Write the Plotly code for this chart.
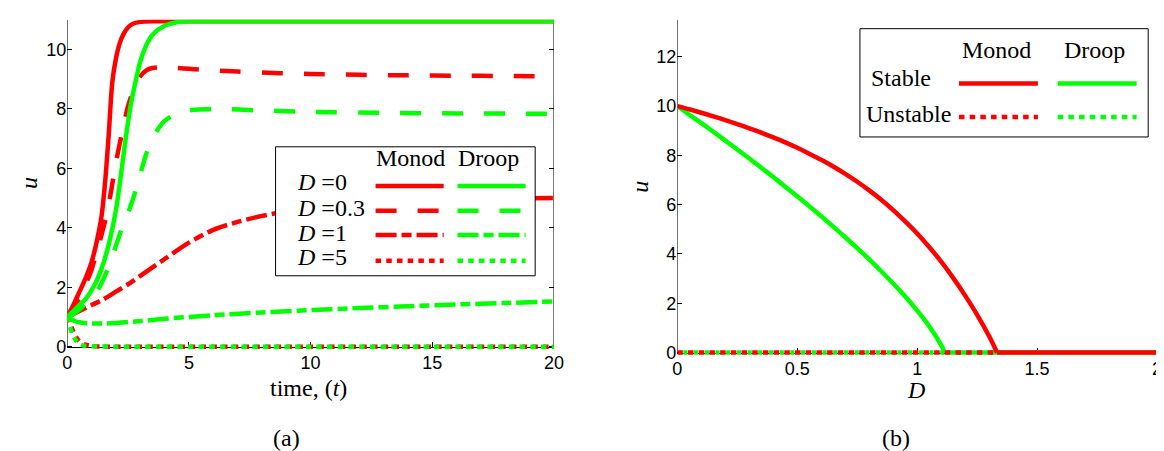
import plotly.graph_objects as go

W, H = 1164, 451

# ---------------- panel (a): u(t) ----------------
t_monod_d0 = [0, 0.25, 0.5, 0.75, 1.0, 1.2, 1.4, 1.55, 1.7, 1.85, 2.0, 2.15, 2.3, 2.5, 2.7, 3.0, 3.5, 4, 5, 10, 15, 20]
u_monod_d0 = [1.0, 1.4, 1.85, 2.3, 2.85, 3.5, 4.35, 5.5, 7.1, 8.9, 9.7, 10.2, 10.5, 10.75, 10.87, 10.93, 10.95, 10.95, 10.95, 10.95, 10.95, 10.95]

t_droop_d0 = [0, 0.25, 0.5, 0.75, 1.0, 1.25, 1.5, 1.75, 2.0, 2.2, 2.4, 2.6, 2.8, 3.0, 3.25, 3.5, 4.0, 4.5, 5.0, 6, 10, 15, 20]
u_droop_d0 = [1.0, 1.2, 1.4, 1.6, 1.9, 2.3, 2.85, 3.6, 4.6, 5.75, 7.0, 8.1, 8.9, 9.6, 10.15, 10.5, 10.8, 10.92, 10.95, 10.95, 10.95, 10.95, 10.95]

t_monod_d03 = [0, 0.25, 0.5, 0.75, 1.0, 1.25, 1.5, 1.75, 2.0, 2.25, 2.5, 2.75, 3.0, 3.25, 3.5, 4, 4.5, 5, 6, 7, 8.5, 10, 12, 14, 16, 18, 20]
u_monod_d03 = [1.0, 1.3, 1.65, 2.1, 2.6, 3.3, 4.05, 5.0, 6.2, 7.2, 8.1, 8.7, 9.1, 9.3, 9.38, 9.4, 9.38, 9.35, 9.3, 9.26, 9.21, 9.18, 9.15, 9.13, 9.12, 9.11, 9.1]

t_droop_d03 = [0, 0.25, 0.5, 0.75, 1.0, 1.25, 1.5, 1.75, 2.0, 2.25, 2.5, 2.75, 3.0, 3.25, 3.5, 3.75, 4.0, 4.5, 5, 6, 8, 10, 13, 16, 20]
u_droop_d03 = [1.0, 1.1, 1.25, 1.45, 1.65, 1.9, 2.3, 2.8, 3.4, 4.0, 4.5, 5.1, 5.8, 6.5, 7.0, 7.35, 7.6, 7.85, 7.95, 8.0, 7.95, 7.9, 7.87, 7.85, 7.84]

t_monod_d1 = [0, 0.5, 1, 1.5, 2, 2.5, 3, 4, 5, 6, 7, 8, 9, 10, 12, 14, 16, 18, 20]
u_monod_d1 = [1.0, 1.2, 1.4, 1.6, 1.85, 2.1, 2.38, 2.95, 3.5, 3.93, 4.2, 4.4, 4.55, 4.67, 4.82, 4.9, 4.95, 4.98, 5.0]

t_droop_d1 = [0, 0.25, 0.5, 1, 1.5, 2, 3, 4, 5, 6, 8, 10, 12, 14, 16, 18, 20]
u_droop_d1 = [1.0, 0.88, 0.82, 0.78, 0.78, 0.8, 0.86, 0.94, 1.0, 1.06, 1.15, 1.23, 1.3, 1.36, 1.42, 1.47, 1.52]

t_monod_d5 = [0, 0.1, 0.2, 0.3, 0.4, 0.5, 0.7, 1.0, 1.5, 2, 5, 10, 15, 20]
u_monod_d5 = [1.0, 0.8, 0.6, 0.42, 0.28, 0.18, 0.08, 0.02, 0, 0, 0, 0, 0, 0]

t_droop_d5 = [0, 0.1, 0.2, 0.3, 0.4, 0.5, 0.7, 1.0, 2, 5, 10, 15, 20]
u_droop_d5 = [1.0, 0.7, 0.45, 0.28, 0.16, 0.09, 0.03, 0.01, 0, 0, 0, 0, 0]

t_ticks = [0, 5, 10, 15, 20]
u_ticks_a = [0, 2, 4, 6, 8, 10]
D_labels = ["=0", "=0.3", "=1", "=5"]

# ---------------- panel (b): u vs D ----------------
D_monod_pos = [0, 0.05, 0.1, 0.15, 0.2, 0.25, 0.3, 0.35, 0.4, 0.45, 0.5, 0.55, 0.6, 0.65,
               0.7, 0.75, 0.8, 0.85, 0.9, 0.95, 1.0, 1.05, 1.1, 1.15, 1.2, 1.25, 1.3, 1.333]
u_monod_pos = [10, 9.87, 9.73, 9.585, 9.43, 9.27, 9.10, 8.92, 8.73, 8.53, 8.31, 8.07, 7.82, 7.55,
               7.25, 6.93, 6.58, 6.20, 5.78, 5.32, 4.83, 4.28, 3.69, 3.03, 2.31, 1.53, 0.66, 0]

D_droop_pos = [0, 0.05, 0.1, 0.15, 0.2, 0.25, 0.3, 0.35, 0.4, 0.45, 0.5, 0.55, 0.6, 0.65,
               0.7, 0.75, 0.8, 0.85, 0.9, 0.95, 1.0, 1.05, 1.1, 1.115]
u_droop_pos = [10, 9.65, 9.31, 8.96, 8.60, 8.24, 7.87, 7.50, 7.12, 6.73, 6.34, 5.94, 5.53, 5.11,
               4.68, 4.24, 3.78, 3.30, 2.80, 2.27, 1.70, 1.07, 0.30, 0]

D_monod_wash_unstable = [0, 1.333]
D_monod_wash_stable = [1.333, 2]
D_droop_wash_unstable = [0, 1.115]
D_droop_wash_stable = [1.115, 2]
u_wash = [0, 0]

D_ticks = [0, 0.5, 1, 1.5, 2]
D_ticktext = ["0", "0.5", "1", "1.5", "2"]
u_ticks_b = [0, 2, 4, 6, 8, 10, 12]

# ---------------- styling ----------------
RED = "#ff0000"
GREEN = "#00ff00"
LW = 4.5
DASHES = {
    "solid": "solid",
    "dash": "21px,21px",
    "dashdot": "21px,5px,10px,5px",
    "dot": "5.5px,5.2px",
    "dot_shift": "0px,6px,4.2px,0.5px",
}
SERIF = "Liberation Serif"
SANS = "Liberation Sans"
FS = 24


def px(x):
    return x / W


def py(y):
    return 1 - y / H


fig = go.Figure()


def add(x, y, color, dash, xa, ya, smooth=True):
    fig.add_trace(go.Scatter(
        x=x, y=y, mode="lines",
        line=dict(color=color, width=LW, dash=DASHES[dash],
                  shape="spline" if smooth else "linear", smoothing=0.8),
        xaxis=xa, yaxis=ya, showlegend=False, hoverinfo="skip"))


# panel (a): red first, green on top
add(t_monod_d0, u_monod_d0, RED, "solid", "x", "y")
add(t_monod_d03, u_monod_d03, RED, "dash", "x", "y")
add(t_monod_d1, u_monod_d1, RED, "dashdot", "x", "y")
add(t_monod_d5, u_monod_d5, RED, "dot", "x", "y")
add(t_droop_d0, u_droop_d0, GREEN, "solid", "x", "y")
add(t_droop_d03, u_droop_d03, GREEN, "dash", "x", "y")
add(t_droop_d1, u_droop_d1, GREEN, "dashdot", "x", "y")
add(t_droop_d5, u_droop_d5, GREEN, "dot", "x", "y")

# panel (b): green first, red on top
add(D_droop_pos, u_droop_pos, GREEN, "solid", "x2", "y2")
add(D_droop_wash_stable, u_wash, GREEN, "solid", "x2", "y2", False)
add(D_droop_wash_unstable, u_wash, GREEN, "dot_shift", "x2", "y2", False)
add(D_monod_pos, u_monod_pos, RED, "solid", "x2", "y2")
add(D_monod_wash_stable, u_wash, RED, "solid", "x2", "y2", False)
add(D_monod_wash_unstable, u_wash, RED, "dot", "x2", "y2", False)

# ---------------- axes ----------------
tickfont = dict(family=SANS, size=18, color="black")
common = dict(showgrid=False, zeroline=False, ticks="inside", ticklen=5,
              tickcolor="black", tickwidth=1, tickfont=tickfont,
              linecolor="black", linewidth=1, layer="below traces")

ya_lo = -0.15
a_top, a_bot = 12, 344           # pixel rows of u=11 and u=0
a_scale = (a_bot - a_top) / 11.0
b_top, b_bot = 12, 350           # pixel rows of u=13.5 and u=0
b_scale = (b_bot - b_top) / 13.5

fig.update_layout(
    width=W, height=H, autosize=False,
    margin=dict(l=0, r=0, t=0, b=0),
    paper_bgcolor="white", plot_bgcolor="white",
    xaxis=dict(domain=[px(55), px(548)], range=[0, 20], anchor="free",
               position=py(a_bot), showline=True, tickvals=t_ticks, **common),
    xaxis3=dict(overlaying="x", anchor="y", side="top", range=[0, 20],
                showline=True, tickvals=t_ticks, showticklabels=False, **common),
    yaxis=dict(domain=[py(a_bot - ya_lo * a_scale), py(a_top)], range=[ya_lo, 11],
               anchor="x", showline=False, mirror="ticks", tickvals=u_ticks_a, **common),
    xaxis2=dict(domain=[px(673), px(1159)], range=[0, 2], anchor="free",
                position=py(b_bot), showline=True, tickvals=D_ticks,
                ticktext=D_ticktext, **common),
    yaxis2=dict(domain=[py(b_bot - ya_lo * b_scale), py(b_top)], range=[ya_lo, 13.5],
                anchor="x2", showline=False, tickvals=u_ticks_b, **common),
)

shapes = []
frame = dict(type="line", line=dict(color="black", width=1), layer="below")
shapes.append(dict(frame, xref="x", yref="y", x0=0, x1=0, y0=0, y1=11))
shapes.append(dict(frame, xref="x", yref="y", x0=20, x1=20, y0=0, y1=11))
shapes.append(dict(frame, xref="x2", yref="y2", x0=0, x1=0, y0=0, y1=13.5))

annotations = []


def text(x, y, s, size=FS, anchor="center", angle=0, family=SERIF):
    annotations.append(dict(xref="paper", yref="paper", x=px(x), y=py(y), text=s,
                            showarrow=False, xanchor=anchor, yanchor="middle",
                            textangle=angle,
                            font=dict(family=family, size=size, color="black")))


def sample(x0, x1, y, color, dash):
    shapes.append(dict(type="line", xref="paper", yref="paper",
                       x0=px(x0), x1=px(x1), y0=py(y), y1=py(y), layer="above",
                       line=dict(color=color, width=LW, dash=DASHES[dash])))


# legend (a)
shapes.append(dict(type="rect", xref="paper", yref="paper", x0=px(266), x1=px(529),
                   y0=py(141), y1=py(272), fillcolor="white",
                   line=dict(color="black", width=1), layer="above"))
text(402.5, 152, "Monod")
text(482, 152, "Droop")
row_y = [176.5, 203, 228.5, 252.5]
line_y = [180.7, 206, 230.7, 256.7]
styles = ["solid", "dash", "dashdot", "dot"]
for lab, ty, ly, st in zip(D_labels, row_y, line_y, styles):
    text(286, ty, "<i>D</i>&nbsp;" + lab, anchor="left")
    sample(367.3, 436.3, ly, RED, st)
    sample(450.3, 519.3, ly, GREEN, st)

text(299, 386, "time, (<i>t</i>)")
text(16, 178, "<i>u</i>", angle=-90)
text(277, 437, "(a)")

# legend (b)
shapes.append(dict(type="rect", xref="paper", yref="paper", x0=px(858), x1=px(1150),
                   y0=py(21), y1=py(131), fillcolor="white",
                   line=dict(color="black", width=1), layer="above"))
text(996.7, 42.5, "Monod")
text(1096, 42.5, "Droop")
text(900, 71.5, "Stable")
text(907.5, 107.5, "Unstable")
sample(958.3, 1038.3, 76.7, RED, "solid")
sample(1058.3, 1138.3, 76.7, GREEN, "solid")
sample(958.3, 1038.3, 110.7, RED, "dot")
sample(1058.3, 1138.3, 110.7, GREEN, "dot")

text(915, 388, "<i>D</i>")
text(635, 181.7, "<i>u</i>", angle=-90)
text(895, 437, "(b)")

fig.update_layout(shapes=shapes, annotations=annotations)
fig.write_html("out.html")
